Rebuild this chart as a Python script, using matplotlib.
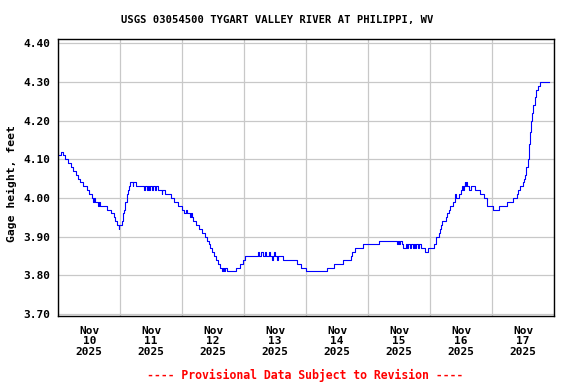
import numpy as np
import matplotlib
matplotlib.use("Agg")
import matplotlib.pyplot as plt

# gage height readings, hours since Nov 10 00:00 (step changes)
hours = [0.0, 1.0, 1.7, 2.7, 3.7, 5.0, 5.8, 6.8, 7.6, 8.4, 9.4, 11.0, 12.0, 13.0, 13.6, 13.9,
         14.3, 15.4, 15.9, 16.3, 18.7, 20.4, 21.7, 22.1, 22.7, 23.4, 23.7, 24.5, 24.9, 25.2,
         25.5, 25.9, 26.5, 26.9, 27.2, 27.7, 28.8, 29.1, 30.1, 33.3, 33.7, 34.2, 34.7, 35.2,
         35.7, 36.2, 36.8, 37.3, 37.7, 38.5, 40.0, 40.3, 41.4, 43.6, 44.9, 46.2, 47.9, 48.8,
         49.3, 49.7, 51.0, 51.3, 51.6, 52.3, 53.5, 54.5, 55.7, 56.8, 57.5, 58.2, 58.7, 59.7,
         60.3, 61.1, 61.8, 62.6, 63.4, 63.7, 64.3, 64.6, 65.2, 69.0, 70.5, 71.4, 72.5, 77.3,
         77.8, 78.6, 79.3, 80.2, 80.6, 81.6, 82.0, 82.6, 83.0, 83.6, 84.0, 84.6, 85.0, 87.1,
         92.3, 94.2, 95.9, 103.9, 106.7, 110.3, 113.2, 113.7, 115.1, 118.1, 124.3, 131.0,
         131.4, 132.0, 132.4, 133.0, 133.6, 134.6, 135.2, 135.6, 136.2, 136.6, 137.2, 137.6,
         138.2, 138.6, 139.2, 139.6, 140.3, 141.9, 143.2, 145.4, 146.2, 146.4, 147.5, 148.0,
         148.4, 148.5, 150.0, 150.5, 151.2, 151.9, 152.9, 153.5, 153.8, 154.1, 155.2, 156.1,
         156.5, 156.8, 157.0, 157.4, 157.7, 157.9, 158.2, 159.1, 160.0, 161.3, 163.2, 164.7,
         166.2, 168.4, 170.8, 173.9, 176.0, 177.7, 178.2, 178.7, 180.0, 180.5, 180.9, 181.3,
         181.8, 182.3, 182.7, 183.2, 183.6, 184.0, 184.5, 185.1, 185.8, 186.4, 190.0]
gage = [4.11, 4.12, 4.11, 4.10, 4.09, 4.08, 4.07, 4.06, 4.05, 4.04, 4.03, 4.02, 4.01, 4.00, 3.99, 4.00,
        3.99, 3.98, 3.99, 3.98, 3.97, 3.96, 3.95, 3.94, 3.93, 3.92, 3.93, 3.94, 3.95, 3.96,
        3.97, 3.99, 4.01, 4.02, 4.03, 4.04, 4.03, 4.04, 4.03, 4.02, 4.03, 4.02, 4.03, 4.02,
        4.03, 4.02, 4.03, 4.02, 4.03, 4.02, 4.01, 4.02, 4.01, 4.00, 3.99, 3.98, 3.97, 3.96,
        3.97, 3.96, 3.95, 3.96, 3.95, 3.94, 3.93, 3.92, 3.91, 3.90, 3.89, 3.88, 3.87, 3.86,
        3.85, 3.84, 3.83, 3.82, 3.81, 3.82, 3.81, 3.82, 3.81, 3.82, 3.83, 3.84, 3.85, 3.86,
        3.85, 3.86, 3.85, 3.86, 3.85, 3.86, 3.85, 3.84, 3.85, 3.86, 3.85, 3.84, 3.85, 3.84,
        3.83, 3.82, 3.81, 3.82, 3.83, 3.84, 3.85, 3.86, 3.87, 3.88, 3.89, 3.88,
        3.89, 3.88, 3.89, 3.88, 3.87, 3.88, 3.87, 3.88, 3.87, 3.88, 3.87, 3.88,
        3.87, 3.88, 3.87, 3.88, 3.87, 3.86, 3.87, 3.88, 3.89, 3.90, 3.91, 3.92,
        3.93, 3.94, 3.95, 3.96, 3.97, 3.98, 3.99, 4.00, 4.01, 4.00, 4.01, 4.02,
        4.03, 4.02, 4.03, 4.04, 4.03, 4.04, 4.03, 4.02, 4.03, 4.02, 4.01, 4.00,
        3.98, 3.97, 3.98, 3.99, 4.00, 4.01, 4.02, 4.03, 4.04, 4.05, 4.06, 4.08,
        4.10, 4.14, 4.17, 4.20, 4.22, 4.24, 4.26, 4.28, 4.29, 4.30, 4.30]

days = ["10", "11", "12", "13", "14", "15", "16", "17"]
yticks = [3.70, 3.80, 3.90, 4.00, 4.10, 4.20, 4.30, 4.40]

font = "DejaVu Sans Mono"

fig = plt.figure(figsize=(5.76, 3.84), dpi=100)
ax = fig.add_axes([0.1012, 0.1771, 0.8606, 0.7206])

ax.plot(hours, gage, color="#0000ff", lw=0.8, drawstyle="steps-post")

ax.set_xlim(0, 192)
ax.set_ylim(3.6948, 4.4103)

# gridlines at midnight, labels at noon
ax.set_xticks(np.arange(0, 193, 24))
ax.set_xticks(np.arange(12, 192, 24), minor=True)
ax.set_xticklabels([])
ax.set_xticklabels(["Nov\n%s\n2025" % d for d in days], minor=True,
                   fontfamily=font, fontweight="bold", fontsize=8, linespacing=1.05)
ax.set_yticks(yticks)
ax.set_yticklabels(["%.2f" % v for v in yticks], fontfamily=font,
                   fontweight="bold", fontsize=8)
ax.tick_params(which="both", length=0)
ax.tick_params(axis="x", which="minor", pad=7)
ax.tick_params(axis="y", pad=6)

ax.grid(True, which="major", color="#c8c8c8", lw=0.9)
ax.set_axisbelow(True)
for s in ax.spines.values():
    s.set_color("black")
    s.set_linewidth(1.0)

fig.text(0.482, 0.948, "USGS 03054500 TYGART VALLEY RIVER AT PHILIPPI, WV",
         ha="center", va="center", fontfamily=font, fontweight="bold", fontsize=7.6)
fig.text(0.021, 0.523, "Gage height, feet", rotation=90, ha="center", va="center",
         fontfamily=font, fontweight="bold", fontsize=8.2)
fig.text(0.53, 0.0234, "---- Provisional Data Subject to Revision ----", color="red",
         ha="center", va="center", fontfamily=font, fontweight="bold", fontsize=8.3)

fig.savefig("out.png", dpi=100)
